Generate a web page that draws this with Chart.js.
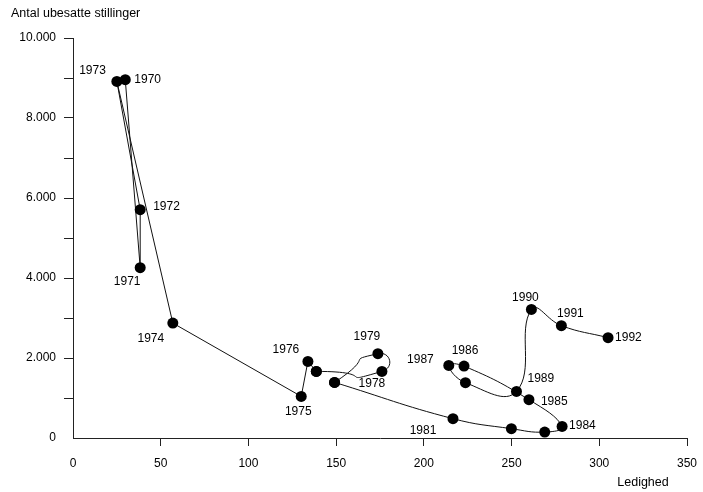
<!DOCTYPE html>
<html><head><meta charset="utf-8">
<script src="https://cdn.jsdelivr.net/npm/chart.js@4"></script>
<style>html,body{margin:0;padding:0;background:#fff}#wrap{width:703px;height:492px;position:relative}</style>
</head><body><div id="wrap"><canvas id="c" width="703" height="492"></canvas></div>
<script>
// ---- data ----
const years = [1970,1971,1972,1973,1974,1975,1976,1977,1978,1979,1980,1981,1982,1983,1984,1985,1986,1987,1988,1989,1990,1991,1992];
// Ledighed (thousands)
const unemployment = [29.8,38.3,38.3,25.0,56.9,130.1,133.9,138.7,176.1,173.8,149.1,216.6,249.9,268.9,278.8,259.9,222.9,214.2,223.7,252.8,261.3,278.4,305.0];
// Antal ubesatte stillinger
const vacancies = [8958,4258,5708,8915,2873,1040,1915,1665,1665,2108,1390,483,233,148,290,958,1798,1815,1383,1165,3215,2808,2508];
const xTicks = [0,50,100,150,200,250,300,350];
const xTickLabels = ['0','50','100','150','200','250','300','350'];
const yTicks = [0,1000,2000,3000,4000,5000,6000,7000,8000,9000,10000];
const yTickLabels = ['0','','2.000','','4.000','','6.000','','8.000','','10.000'];
const labeledYears = [1970,1971,1972,1973,1974,1975,1976,1978,1979,1981,1984,1985,1986,1987,1989,1990,1991,1992];

// label placement (dx, dy, align) relative to the point
const labelPlacement = {
  1970:[9,0,'left'],1971:[-13,14,'center'],1972:[13,-3,'left'],1973:[-11,-11,'right'],
  1974:[-22,16,'center'],1975:[-3,15,'center'],1976:[-22,-12,'center'],1978:[-10,12,'center'],
  1979:[-11,-17,'center'],1981:[-30,12,'center'],1984:[7,-1,'left'],1985:[12,2,'left'],
  1986:[1,-15,'center'],1987:[-15,-6,'right'],1989:[11,-13,'left'],1990:[-6,-12,'center'],
  1991:[9,-12,'center'],1992:[7,0,'left']
};

const pts = years.map((yr,i)=>({x:unemployment[i], y:vacancies[i]}));
const i77 = years.indexOf(1977), i80 = years.indexOf(1980);
const straightPts = pts.slice(0, i77+1);
const loopPts = pts.slice(i77, i80+1);
const curvedPts = pts.slice(i80);

const FONT = '"Liberation Sans", Arial, Helvetica, sans-serif';
const INK = '#000';

const labelsPlugin = {
  id:'yearLabels',
  afterDatasetsDraw(chart){
    const {ctx, scales:{x,y}} = chart;
    ctx.save();
    ctx.fillStyle = INK;
    ctx.font = '12px ' + FONT;
    ctx.textBaseline = 'middle';
    labeledYears.forEach(yr=>{
      const i = years.indexOf(yr);
      const p = labelPlacement[yr];
      ctx.textAlign = p[2];
      ctx.fillText(String(yr), x.getPixelForValue(unemployment[i]) + p[0], y.getPixelForValue(vacancies[i]) + p[1]);
    });
    ctx.font = '12.5px ' + FONT;
    ctx.textAlign = 'left';
    ctx.fillText('Antal ubesatte stillinger', 11, 14);
    ctx.textAlign = 'center';
    ctx.fillText('Ledighed', 643, 483);
    ctx.restore();
  }
};

const gridColor = c => (c.tick && c.tick.value === 0) ? 'rgba(0,0,0,0)' : '#222';
const ds = (data, tension) => ({data, showLine:true, tension, borderColor:'#111', borderWidth:1,
  pointRadius:5.5, pointBackgroundColor:'#000', pointBorderColor:'#000', pointBorderWidth:0});

new Chart(document.getElementById('c'), {
  type:'scatter',
  data:{datasets:[ ds(straightPts, 0), ds(loopPts, 1), ds(curvedPts, 0.45) ]},
  options:{
    responsive:false, animation:false, events:[],
    layout:{padding:{top:38,right:16,left:0,bottom:0}},
    plugins:{legend:{display:false}, tooltip:{enabled:false}},
    scales:{
      x:{type:'linear', min:0, max:350,
        afterBuildTicks:s=>{s.ticks = xTicks.map(v=>({value:v}));},
        afterFit:s=>{s.height = 54; s.paddingRight = 0; s.paddingLeft = 0;},
        grid:{drawOnChartArea:false, drawTicks:true, tickLength:8, color:gridColor, lineWidth:1},
        border:{display:true, color:'#222', width:1},
        ticks:{color:INK, font:{family:FONT, size:12}, padding:10, maxRotation:0, autoSkip:false,
          callback:(v)=>xTickLabels[xTicks.indexOf(v)] ?? ''}
      },
      y:{type:'linear', min:0, max:10000,
        afterBuildTicks:s=>{s.ticks = yTicks.map(v=>({value:v}));},
        afterFit:s=>{s.width = 73; s.paddingTop = 0; s.paddingBottom = 0;},
        grid:{drawOnChartArea:false, drawTicks:true, tickLength:9, color:gridColor, lineWidth:1},
        border:{display:true, color:'#222', width:1},
        ticks:{color:INK, font:{family:FONT, size:12}, padding:8, autoSkip:false,
          callback:(v)=>yTickLabels[yTicks.indexOf(v)] ?? ''}
      }
    }
  },
  plugins:[labelsPlugin]
});
</script></body></html>
